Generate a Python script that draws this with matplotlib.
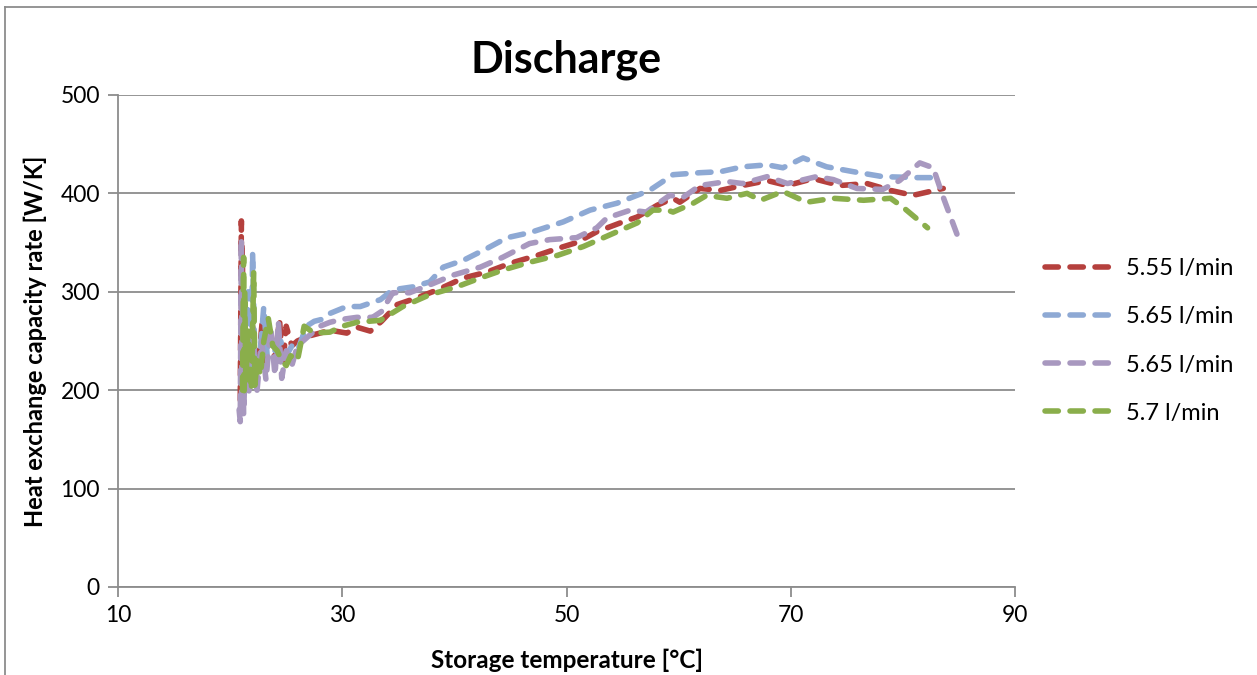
import matplotlib.pyplot as plt
from matplotlib.lines import Line2D

plt.rcParams["font.family"] = ["Lato", "DejaVu Sans"]

# Storage temperature [°C] and heat exchange capacity rate [W/K] per flow rate
t_555 = [20.9, 21.0, 21.0, 21.05, 21.1, 21.1, 21.15, 21.2, 21.3, 21.6, 22.0, 22.5, 22.9, 23.2,
         23.5, 24.0, 24.4, 24.7, 25.0, 25.5, 26.0, 27.0, 28.0, 28.9, 30.4, 31.3, 32.5, 33.5,
         34.9, 36.7, 38.5, 40.8, 42.9, 45.0, 47.4, 49.2, 50.9, 52.7, 54.8, 56.3, 58.1, 59.5,
         60.1, 61.9, 63.7, 65.7, 67.9, 69.7, 72.0, 74.4, 76.8, 78.9, 80.9, 83.6]
v_555 = [190, 372, 200, 350, 210, 330, 190, 300, 200, 240, 215, 225, 275, 220,
         265, 230, 272, 225, 265, 245, 250, 255, 258, 261, 258, 264, 260, 270,
         287, 294, 302, 314, 320, 329, 337, 344, 350, 361, 370, 376, 388, 395,
         391, 405, 403, 408, 413, 408, 415, 408, 410, 403, 398, 405]

t_565a = [21.0, 21.1, 21.3, 21.6, 21.9, 22.0, 22.2, 22.5, 23.0, 23.3, 23.6, 24.0, 24.5, 25.0,
          25.5, 26.0, 26.8, 27.5, 28.2, 28.9, 30.4, 31.6, 33.4, 34.5, 36.3, 37.8, 39.0, 40.8,
          42.9, 44.7, 46.7, 49.7, 52.1, 54.5, 57.4, 59.5, 61.9, 63.7, 65.7, 67.9, 69.3, 71.1,
          73.2, 75.6, 78.2, 81.3, 82.5]
v_565a = [185, 260, 200, 300, 210, 340, 230, 215, 285, 235, 255, 240, 250, 235,
          245, 240, 265, 270, 272, 278, 285, 285, 292, 302, 305, 310, 325, 332,
          344, 355, 360, 371, 383, 390, 403, 419, 421, 422, 427, 429, 426, 436,
          427, 422, 417, 416, 416]

t_565b = [20.8, 20.9, 21.0, 21.05, 21.1, 21.2, 21.4, 21.7, 22.0, 22.4, 22.8, 23.2, 23.6, 24.0,
          24.3, 24.6, 25.0, 25.5, 26.0, 27.0, 28.0, 28.9, 30.0, 31.3, 32.7, 33.5, 34.5, 36.0,
          37.8, 39.9, 42.3, 44.3, 46.7, 48.5, 50.9, 52.7, 53.6, 55.7, 57.1, 59.2, 60.4, 61.9,
          64.3, 65.7, 67.9, 69.7, 72.3, 73.8, 75.9, 78.2, 79.7, 81.5, 82.7, 83.6, 85.1]
v_565b = [180, 168, 355, 190, 300, 175, 250, 195, 265, 200, 250, 210, 265, 215,
          270, 212, 240, 225, 245, 255, 265, 269, 272, 274, 274, 280, 299, 299,
          307, 317, 325, 335, 349, 353, 355, 365, 375, 383, 381, 398, 396, 408,
          412, 410, 417, 410, 417, 414, 405, 404, 413, 431, 426, 396, 350]

t_57 = [21.1, 21.2, 21.25, 21.3, 21.4, 21.6, 21.9, 22.1, 22.2, 22.4, 22.7, 23.0, 23.4, 23.8,
        24.2, 24.6, 25.0, 25.4, 26.0, 26.6, 27.5, 28.9, 30.0, 31.3, 33.4, 35.4, 37.8, 40.2,
        42.3, 44.3, 46.7, 49.2, 51.5, 53.9, 56.3, 57.7, 59.0, 59.5, 61.3, 62.5, 64.3, 66.1,
        67.3, 69.3, 71.4, 73.8, 76.5, 78.9, 80.0, 82.2]
v_57 = [200, 335, 195, 300, 210, 260, 200, 320, 205, 230, 215, 250, 273, 245,
        240, 230, 225, 235, 230, 265, 258, 259, 265, 269, 271, 285, 297, 305,
        314, 322, 330, 337, 346, 358, 370, 383, 383, 381, 390, 398, 395, 400,
        393, 402, 391, 395, 393, 395, 386, 365]

labels = ["5.55 l/min", "5.65 l/min", "5.65 l/min", "5.7 l/min"]
colors = ["#B5403D", "#8EA9D4", "#A898BF", "#8AAE4B"]

fig = plt.figure(figsize=(12.57, 6.75), dpi=100)
ax = fig.add_axes([0.0939, 0.1304, 0.7136, 0.7289])

series = [(t_555, v_555), (t_565a, v_565a), (t_565b, v_565b), (t_57, v_57)]
for (t, v), lab, c in zip(series, labels, colors):
    ax.plot(t, v, color=c, lw=4, ls=(0, (2.4, 2.1)), dash_capstyle="round",
            solid_joinstyle="round", label=lab)

ax.set_xlim(10, 90)
ax.set_ylim(0, 500)
ax.set_xticks([10, 30, 50, 70, 90])
ax.set_yticks(range(0, 501, 100))
ax.yaxis.grid(True, color="#8C8C8C", lw=1.3)
ax.set_axisbelow(True)
for s in ["top", "right"]:
    ax.spines[s].set_visible(False)
for s in ["left", "bottom"]:
    ax.spines[s].set_color("#8C8C8C")
    ax.spines[s].set_linewidth(1.3)
ax.tick_params(axis="both", direction="out", length=7, width=1.3, color="#8C8C8C",
               labelsize=16.5, pad=6)

ax.set_title("Discharge", fontsize=31, fontweight="bold", pad=16)
ax.set_xlabel("Storage temperature [°C]", fontsize=17.5, fontweight="bold", labelpad=16)
ax.set_ylabel("Heat exchange capacity rate [W/K]", fontsize=17, fontweight="bold", labelpad=10)

ax.legend(loc="center left", bbox_to_anchor=(1.01, 0.5), frameon=False, fontsize=17,
          handlelength=2.7, labelspacing=1.15, handletextpad=0.7)

# outer chart frame (left and top edges visible)
fig.add_artist(Line2D([5 / 1257, 5 / 1257], [0, 1 - 7 / 675], transform=fig.transFigure,
                      color="#8C8C8C", lw=1.3))
fig.add_artist(Line2D([5 / 1257, 1], [1 - 7 / 675, 1 - 7 / 675], transform=fig.transFigure,
                      color="#8C8C8C", lw=1.3))

fig.savefig("out.png", dpi=100)
